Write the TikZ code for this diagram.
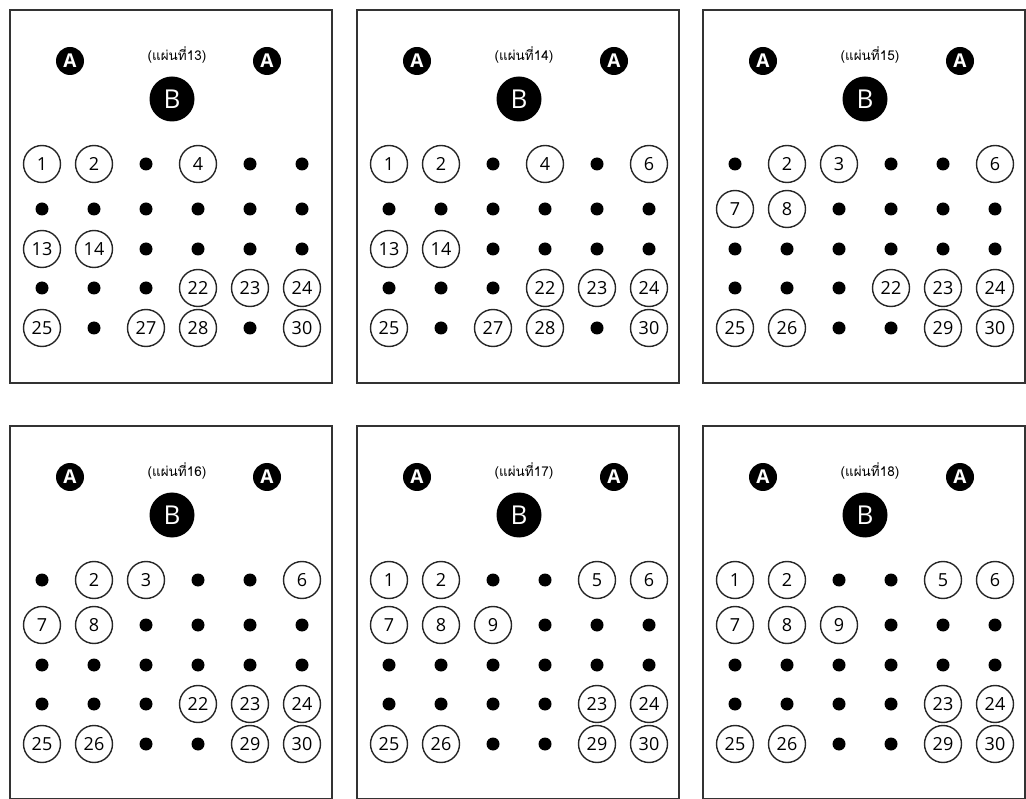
\documentclass[tikz,border=0pt]{standalone}
\usepackage{fontspec}
\setmainfont{Open Sans}
\newfontfamily\thaifont[Script=Thai]{Loma}

% one sheet: #1 sheet no., #2 left, #3 top, #4 the 30 cells (0 = plain dot)
\newcommand{\sheet}[4]{%
  \begin{scope}[shift={(#2,#3)}]
    \node[plate] (s#1) at (161,186.5) {};
    \node[sheetlabel] (s#1-t) at (167,45) {(แผ่นที่#1)};
    \node[holeA] (s#1-a1) at (60,51) {A};
    \node[holeA] (s#1-a2) at (257,51) {A};
    \node[holeB] (s#1-b) at (162,89) {B};
    \foreach \v [count=\i from 0] in {#4} {
      \pgfmathtruncatemacro\col{mod(\i,6)}
      \pgfmathtruncatemacro\row{div(\i,6)}
      \pgfmathtruncatemacro\k{\i+1}
      \pgfmathsetmacro\px{32+52*\col}
      \pgfmathsetmacro\py{{154,199,239,278,318}[\row]}
      \ifnum\v=0
        \node[dot] (s#1-\k) at (\px,\py) {};
      \else
        \node[hole] (s#1-\k) at (\px,\py) {\v};
      \fi
    }
  \end{scope}}

\begin{document}
\begin{tikzpicture}[
    x=1pt, y=-1pt,
    plate/.style={rectangle, draw=black!80, line width=1.8pt, minimum width=322pt, minimum height=373pt, inner sep=0pt},
    sheetlabel/.style={font=\thaifont\fontsize{13.5}{13.5}\selectfont, inner sep=0pt},
    holeA/.style={circle, fill=black, text=white, minimum size=28pt, inner sep=0pt, font=\bfseries\fontsize{19}{19}\selectfont},
    holeB/.style={circle, fill=black, text=white, minimum size=45pt, inner sep=0pt, font=\fontsize{26}{26}\selectfont},
    hole/.style={circle, draw=black!85, line width=1.4pt, minimum size=37pt, inner sep=0pt, font=\fontsize{18}{18}\selectfont},
    dot/.style={circle, fill=black, minimum size=13pt, inner sep=0pt}
]
    \useasboundingbox (0,0) rectangle (1026,799);
    % top row
    \sheet{13}{10}{10}{1,2,0,4,0,0, 0,0,0,0,0,0, 13,14,0,0,0,0, 0,0,0,22,23,24, 25,0,27,28,0,30}
    \sheet{14}{357}{10}{1,2,0,4,0,6, 0,0,0,0,0,0, 13,14,0,0,0,0, 0,0,0,22,23,24, 25,0,27,28,0,30}
    \sheet{15}{703}{10}{0,2,3,0,0,6, 7,8,0,0,0,0, 0,0,0,0,0,0, 0,0,0,22,23,24, 25,26,0,0,29,30}
    % bottom row
    \sheet{16}{10}{426}{0,2,3,0,0,6, 7,8,0,0,0,0, 0,0,0,0,0,0, 0,0,0,22,23,24, 25,26,0,0,29,30}
    \sheet{17}{357}{426}{1,2,0,0,5,6, 7,8,9,0,0,0, 0,0,0,0,0,0, 0,0,0,0,23,24, 25,26,0,0,29,30}
    \sheet{18}{703}{426}{1,2,0,0,5,6, 7,8,9,0,0,0, 0,0,0,0,0,0, 0,0,0,0,23,24, 25,26,0,0,29,30}
\end{tikzpicture}
\end{document}
